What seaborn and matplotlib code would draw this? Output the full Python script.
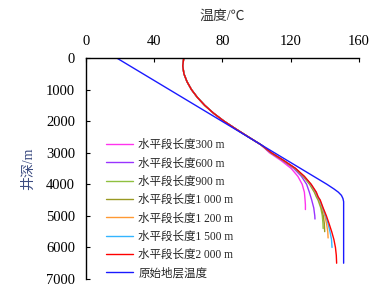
import numpy as np
import pandas as pd
import matplotlib
matplotlib.use("Agg")
import matplotlib.pyplot as plt
import seaborn as sns

sns.set_theme(style="white")
plt.rcParams['font.family'] = ['Liberation Serif', 'Noto Sans CJK SC', 'DejaVu Sans']
plt.rcParams['axes.unicode_minus'] = False

# ---------------- data ----------------
series_names = ["水平段长度300 m", "水平段长度600 m", "水平段长度900 m",
                "水平段长度1 000 m", "水平段长度1 200 m", "水平段长度1 500 m",
                "水平段长度2 000 m", "原始地层温度"]
series_colors = ["#FF33EE", "#9933FF", "#8FC040", "#999922",
                 "#FF9933", "#33B5FF", "#FF0000", "#1A1AFF"]

common_depth = [0, 250, 500, 750, 1000, 1250, 1500, 1750, 2000, 2250, 2500, 2750]
common_temp = [57.3, 56.7, 57.4, 59.2, 61.8, 65.3, 69.6, 74.8, 80.9, 87.9, 95.2, 102.6]

depth_300 = [3000, 3250, 3500, 3750, 4000, 4250, 4500, 4650, 4800]
temp_300 = [107.5, 114.4, 120.3, 124.2, 126.7, 128.0, 128.4, 128.6, 128.6]

depth_600 = [3000, 3250, 3500, 3750, 4000, 4250, 4500, 4750, 5000, 5100]
temp_600 = [108.0, 115.3, 121.8, 126.3, 129.3, 130.9, 132.3, 133.5, 134.1, 134.2]

depth_900 = [3000, 3250, 3500, 3750, 4000, 4250, 4400, 4500, 4750, 5000, 5250, 5400]
temp_900 = [108.3, 115.7, 122.4, 127.3, 131.0, 133.8, 135.0, 136.0, 137.6, 138.5, 138.9, 139.0]

depth_1000 = [3000, 3250, 3500, 3750, 4000, 4250, 4400, 4500, 4750, 5000, 5250, 5500]
temp_1000 = [108.4, 115.8, 122.6, 127.5, 131.3, 134.1, 135.3, 136.4, 138.0, 139.1, 139.7, 139.9]

depth_1200 = [3000, 3250, 3500, 3750, 4000, 4250, 4400, 4500, 4750, 5000, 5250, 5500, 5700]
temp_1200 = [108.5, 115.9, 122.7, 127.7, 131.6, 134.5, 135.7, 136.7, 138.5, 140.0, 141.0, 141.7, 141.9]

depth_1500 = [3000, 3250, 3500, 3750, 4000, 4250, 4400, 4500, 4750, 5000, 5250, 5500, 5750, 6000]
temp_1500 = [108.5, 116.0, 122.8, 127.9, 131.8, 134.8, 135.9, 137.0, 138.8, 140.5, 141.9, 143.0, 143.9, 144.2]

depth_2000 = [3000, 3250, 3500, 3750, 4000, 4250, 4400, 4500, 4750, 5000, 5250, 5500, 5750, 6000, 6250, 6500]
temp_2000 = [108.6, 116.0, 122.9, 128.0, 132.0, 135.0, 136.1, 137.3, 139.0, 140.9, 142.5, 144.0, 145.3, 146.2, 146.7, 146.9]

depth_orig = [0, 1000, 2000, 3000, 4000, 4150, 4250, 4350, 4450, 4550, 6500]
temp_orig = [18.0, 48.8, 79.6, 110.4, 141.2, 145.4, 147.9, 149.7, 150.6, 151.0, 151.0]

tails = [(depth_300, temp_300), (depth_600, temp_600), (depth_900, temp_900),
         (depth_1000, temp_1000), (depth_1200, temp_1200), (depth_1500, temp_1500),
         (depth_2000, temp_2000)]

rows = []
for name, (d, t) in zip(series_names[:-1], tails):
    for dd, tt in zip(common_depth + d, common_temp + t):
        rows.append({"series": name, "depth": dd, "temp": tt})
for dd, tt in zip(depth_orig, temp_orig):
    rows.append({"series": series_names[-1], "depth": dd, "temp": tt})
df = pd.DataFrame(rows)

# ---------------- plot ----------------
fig = plt.figure(figsize=(3.8, 2.95), dpi=100)
ax = fig.add_axes([0.2263, 0.0542, 0.7184, 0.7492])

sns.lineplot(data=df, x="temp", y="depth", hue="series", hue_order=series_names,
             palette=dict(zip(series_names, series_colors)), sort=False,
             estimator=None, linewidth=1.0, ax=ax, legend=True)

ax.set_xlim(0, 160)
ax.set_ylim(7000, 0)
ax.set_xticks([0, 40, 80, 120, 160])
ax.set_yticks(range(0, 7001, 1000))
ax.xaxis.tick_top()
ax.xaxis.set_label_position('top')
ax.tick_params(axis='both', direction='in', length=3, width=0.8, colors='black',
               labelsize=10.5)
ax.tick_params(axis='x', top=True, bottom=False, pad=7)
ax.tick_params(axis='y', left=True, right=False, pad=8)

for side in ['right', 'bottom']:
    ax.spines[side].set_visible(False)
for side in ['left', 'top']:
    ax.spines[side].set_visible(True)
    ax.spines[side].set_color('black')
    ax.spines[side].set_linewidth(1.0)

ax.set_xlabel("温度/℃", fontsize=10, color='#333333', labelpad=11)
ax.set_ylabel("井深/m", fontsize=10, color='#3A4A80', labelpad=8)

ax.legend(loc='upper left', bbox_to_anchor=(106 / 380, 1 - 139 / 295),
          bbox_transform=fig.transFigure, frameon=False, fontsize=8.3,
          handlelength=2.3, handletextpad=0.5, labelspacing=0.55,
          borderaxespad=0, borderpad=0)
ax.grid(False)

fig.savefig("out.png", dpi=100)
